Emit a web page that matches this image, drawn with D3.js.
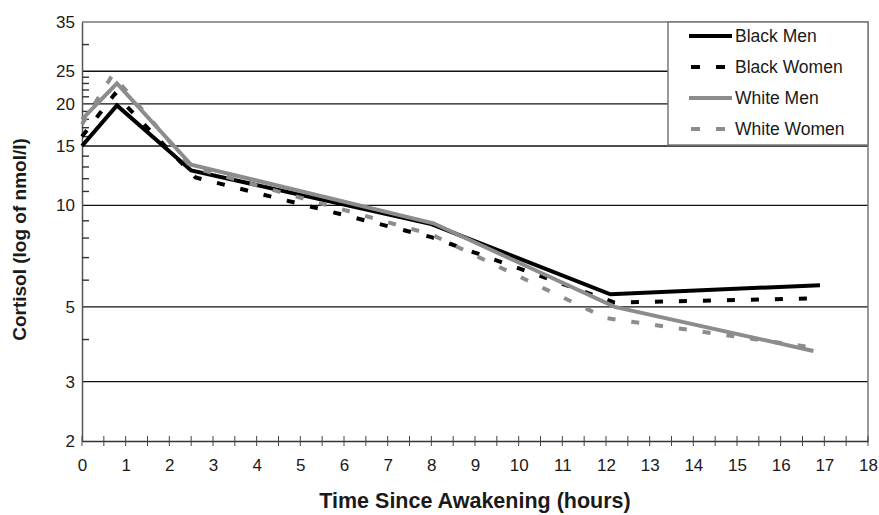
<!DOCTYPE html>
<html>
<head>
<meta charset="utf-8">
<script src="https://cdn.jsdelivr.net/npm/d3@7"></script>
<style>
  body { margin: 0; background: #fff; }
  svg text { font-family: "Liberation Sans", Arial, sans-serif; fill: #1a1a1a; }
</style>
</head>
<body>
<svg id="chart" width="879" height="515"></svg>
<script>
// hours since awakening, cortisol in nmol/l
let seriesNames = ['Black Men', 'Black Women', 'White Men', 'White Women']
let blackMen = [[0, 15.0], [0.8, 19.8], [2.5, 12.7], [8.0, 8.8], [12.1, 5.45], [16.9, 5.8]]
let blackWomen = [[0, 16.0], [0.75, 21.4], [2.6, 12.1], [8.0, 8.05], [12.2, 5.15], [16.8, 5.3]]
let whiteMen = [[0, 18.0], [0.8, 23.0], [2.5, 13.2], [8.05, 8.85], [12.2, 5.0], [16.75, 3.7]]
let whiteWomen = [[0, 17.4], [0.7, 24.4], [2.5, 13.0], [8.0, 8.2], [12.0, 4.63], [16.8, 3.78]]

let xTickLabels = d3.range(0, 19)
let xMinorTicks = d3.range(0, 18.5, 0.5)
let yTickLabels = [2, 3, 5, 10, 15, 20, 25, 35]
let yGridValues = [3, 5, 10, 15, 20, 25]
let yMinorTicks = [4, 6, 7, 8, 9, 11, 12, 13, 14, 16, 17, 18, 19, 21, 22, 23, 24, 30]

let allSeries = [blackMen, blackWomen, whiteMen, whiteWomen]
let colors = ['#000', '#000', '#8c8c8c', '#8c8c8c']
let dashes = [null, '8,16', null, '8,16']

let svg = d3.select('#chart')
let plotLeft = 82, plotRight = 868, plotTop = 22, plotBottom = 441

let x = d3.scaleLinear().domain([0, 18]).range([plotLeft, plotRight])
let y = d3.scaleLog().domain([2, 35]).range([plotBottom, plotTop])

// gridlines
svg.append('g')
  .selectAll('line').data(yGridValues).enter().append('line')
  .attr('x1', plotLeft).attr('x2', plotRight)
  .attr('y1', d => y(d)).attr('y2', d => y(d))
  .attr('stroke', '#111').attr('stroke-width', 1.4)

// frame top/right
svg.append('path')
  .attr('d', `M${plotLeft},${plotTop}H${plotRight}V${plotBottom}`)
  .attr('fill', 'none').attr('stroke', '#777').attr('stroke-width', 1.5)

// y axis
let yAxis = svg.append('g').attr('transform', `translate(${plotLeft},0)`)
  .call(d3.axisLeft(y).tickValues(yTickLabels).tickFormat(d3.format('d')).tickSize(0).tickPadding(7))
yAxis.select('.domain').attr('stroke', '#555').attr('stroke-width', 1.5)
yAxis.selectAll('text').style('font-size', '17px')

svg.append('g')
  .selectAll('line').data(yMinorTicks).enter().append('line')
  .attr('x1', plotLeft).attr('x2', plotLeft + 7)
  .attr('y1', d => y(d)).attr('y2', d => y(d))
  .attr('stroke', '#333').attr('stroke-width', 1.4)

// x axis
let xAxis = svg.append('g').attr('transform', `translate(0,${plotBottom})`)
  .call(d3.axisBottom(x).tickValues(xTickLabels).tickFormat(d3.format('d')).tickSize(0).tickPadding(18))
xAxis.select('.domain').attr('stroke', '#333').attr('stroke-width', 1.6)
xAxis.selectAll('text').style('font-size', '17px')

svg.append('g')
  .selectAll('line').data(xMinorTicks).enter().append('line')
  .attr('x1', d => x(d)).attr('x2', d => x(d))
  .attr('y1', plotBottom - 5).attr('y2', plotBottom + 5)
  .attr('stroke', '#444').attr('stroke-width', 1)

// series
let line = d3.line().x(d => x(d[0])).y(d => y(d[1]))
allSeries.forEach((s, i) => {
  svg.append('path').datum(s)
    .attr('d', line)
    .attr('fill', 'none')
    .attr('stroke', colors[i])
    .attr('stroke-width', 4)
    .attr('stroke-linejoin', 'miter')
    .attr('stroke-dasharray', dashes[i])
})

// legend
let legend = svg.append('g')
legend.append('rect')
  .attr('x', 668).attr('y', plotTop).attr('width', plotRight - 668).attr('height', 123)
  .attr('fill', '#fff').attr('stroke', '#777').attr('stroke-width', 1.5)

seriesNames.forEach((name, i) => {
  let ly = 36 + i * 31
  legend.append('line')
    .attr('x1', i % 2 ? 691 : 689).attr('x2', 732)
    .attr('y1', ly).attr('y2', ly)
    .attr('stroke', colors[i]).attr('stroke-width', 4)
    .attr('stroke-dasharray', dashes[i] ? '9,16' : null)
  legend.append('text')
    .attr('x', 735).attr('y', ly + 6)
    .style('font-size', '17.5px')
    .text(name)
})

// titles
svg.append('text')
  .attr('transform', `translate(26,${(plotTop + plotBottom) / 2 + 8}) rotate(-90)`)
  .attr('text-anchor', 'middle')
  .style('font-size', '19px').style('font-weight', 'bold')
  .text('Cortisol (log of nmol/l)')

svg.append('text')
  .attr('x', (plotLeft + plotRight) / 2).attr('y', 508)
  .attr('text-anchor', 'middle')
  .style('font-size', '21.5px').style('font-weight', 'bold')
  .text('Time Since Awakening (hours)')
</script>
</body>
</html>
